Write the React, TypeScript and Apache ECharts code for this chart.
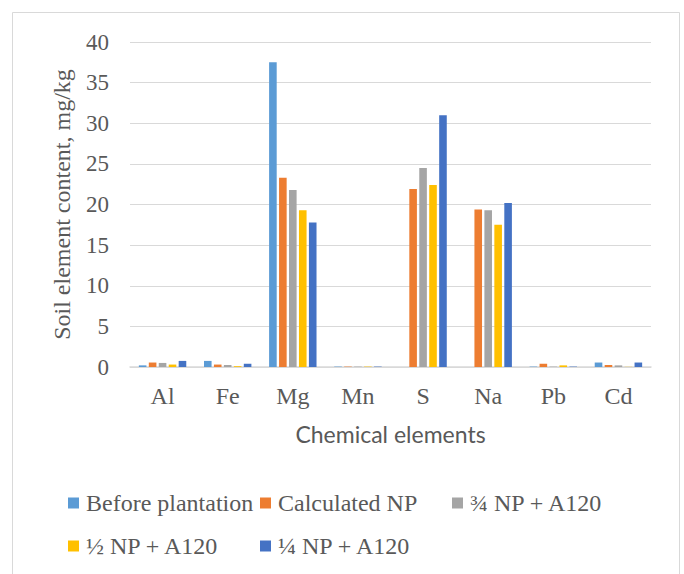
import React, { useEffect, useRef } from "react";
import * as echarts from "echarts";

const categories = ["Al", "Fe", "Mg", "Mn", "S", "Na", "Pb", "Cd"];
const seriesNames = [
  "Before plantation",
  "Calculated NP",
  "¾ NP + A120",
  "½ NP + A120",
  "¼ NP + A120",
];
const beforePlantation = [0.2, 0.75, 37.5, 0.05, 0, 0, 0.05, 0.55];
const calculatedNP = [0.55, 0.3, 23.3, 0.05, 21.9, 19.4, 0.4, 0.25];
const threeQuarterNP = [0.5, 0.25, 21.8, 0.05, 24.5, 19.3, 0.05, 0.2];
const halfNP = [0.3, 0.1, 19.3, 0.05, 22.4, 17.5, 0.2, 0.02];
const quarterNP = [0.75, 0.4, 17.8, 0.05, 31.0, 20.2, 0.05, 0.55];
const seriesValues = [beforePlantation, calculatedNP, threeQuarterNP, halfNP, quarterNP];
const colors = ["#5B9BD5", "#ED7D31", "#A5A5A5", "#FFC000", "#4472C4"];

const SERIF = "'Liberation Serif', 'Times New Roman', serif";
const SANS = "Lato, 'Liberation Sans', sans-serif";

const legendPos = [
  { left: 68, top: 491 },
  { left: 260, top: 491 },
  { left: 452, top: 491 },
  { left: 68, top: 534 },
  { left: 260, top: 534 },
];

export default function App() {
  const ref = useRef<HTMLDivElement>(null);
  useEffect(() => {
    if (!ref.current) return;
    const chart = echarts.init(ref.current, null, { renderer: "svg" });
    chart.setOption({
      animation: false,
      backgroundColor: "#ffffff",
      color: colors,
      graphic: [
        {
          type: "rect",
          shape: { x: 12.5, y: 12.5, width: 667, height: 600 },
          style: { fill: "none", stroke: "#d9d9d9", lineWidth: 1 },
          silent: true,
        },
      ],
      legend: seriesNames.map((n, i) => ({
        data: [n],
        left: legendPos[i].left,
        top: legendPos[i].top,
        padding: 0,
        itemWidth: 11,
        itemHeight: 11,
        itemGap: 6,
        icon: "rect",
        textStyle: { fontFamily: SERIF, fontSize: 24, color: "#595959", padding: [0, 0, 0, 2] },
        selectedMode: false,
      })),
      grid: { left: 130, right: 33, top: 42, bottom: 207, containLabel: false },
      xAxis: {
        type: "category",
        data: categories,
        name: "Chemical elements",
        nameLocation: "middle",
        nameGap: 55,
        nameTextStyle: { fontFamily: SANS, fontSize: 23, color: "#595959" },
        axisLine: { lineStyle: { color: "#d9d9d9", width: 1.5 } },
        axisTick: { show: false },
        axisLabel: { fontFamily: SERIF, fontSize: 24, color: "#595959", margin: 17 },
      },
      yAxis: {
        type: "value",
        min: 0,
        max: 40,
        interval: 5,
        name: "Soil element content, mg/kg",
        nameLocation: "middle",
        nameGap: 56,
        nameTextStyle: { fontFamily: SERIF, fontSize: 24, color: "#595959" },
        axisLine: { show: false },
        axisTick: { show: false },
        splitLine: { lineStyle: { color: "#d9d9d9", width: 1 } },
        axisLabel: { fontFamily: SERIF, fontSize: 23, color: "#595959", margin: 21 },
      },
      series: seriesNames.map((n, i) => ({
        name: n,
        type: "bar",
        data: seriesValues[i],
        barWidth: 7.6,
        barGap: "31%",
        itemStyle: { color: colors[i] },
      })),
    });
    return () => chart.dispose();
  }, []);
  return (
    <div
      ref={ref}
      style={{ position: "fixed", left: 0, top: 0, width: 684, height: 574 }}
    />
  );
}
